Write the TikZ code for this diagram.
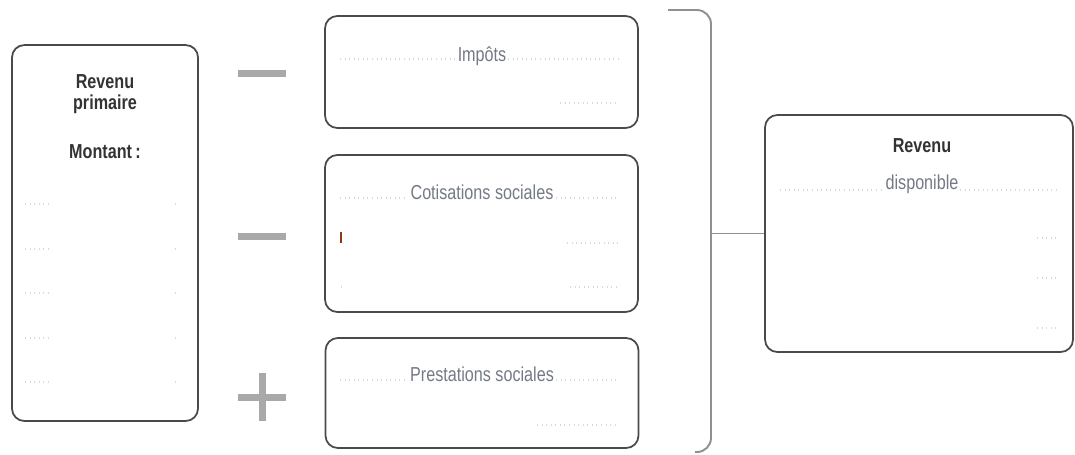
\documentclass[tikz,border=0pt]{standalone}
\usepackage{fontspec}
\setmainfont{Liberation Sans}
\newfontfamily\condfont[FakeStretch=0.8]{Liberation Sans}
\usetikzlibrary{positioning}
\definecolor{boxline}{HTML}{4A4A4A}
\definecolor{signgray}{HTML}{A9A9A9}
\definecolor{labelgray}{HTML}{737985}
\definecolor{cursor}{HTML}{8B3A12}
\tikzset{
    basic/.style  = {draw=boxline, line width=1pt, rectangle, rounded corners=7pt, inner sep=0pt},
    tall box/.style = {basic, minimum width=3.72cm, minimum height=7.52cm},
    flow box/.style = {basic, minimum width=6.26cm},
    head/.style = {font=\condfont\fontsize{11.5}{13}\selectfont\bfseries, text=black!80, anchor=base, inner sep=0pt},
    item/.style = {font=\condfont\fontsize{11.5}{13}\selectfont, text=labelgray, anchor=base, inner sep=0pt},
    sign/.style = {draw=signgray, line width=0.14cm},
    brace/.style = {draw=signgray!85!black, line width=1.1pt, rounded corners=8pt},
    dots/.style = {draw=gray!30, line width=0.6pt, dash pattern=on 0.6pt off 2pt}
}
\begin{document}
\begin{tikzpicture}[x=0.02cm, y=-0.02cm]
	\useasboundingbox (0,0) rectangle (1075,454);
	\node[tall box] (prim) at (105,233) {};
	\node[flow box, minimum height=2.24cm] (impots) at (481.5,72) {};
	\node[flow box, minimum height=3.14cm] (cotis) at (481.5,233.5) {};
	\node[flow box, minimum height=2.2cm] (prest) at (482,393) {};
	\node[basic, minimum width=6.16cm, minimum height=4.74cm] (dispo) at (919,233.5) {};

	\node[head] (primA) at (105,88) {Revenu};
	\node[head] (primB) at (105,109) {primaire};
	\node[head] (montant) at (105,158) {Montant\,:};
	\node[item] (impotsT) at (482,61) {Impôts};
	\node[item] (cotisT) at (482,199) {Cotisations sociales};
	\node[item] (prestT) at (482,381) {Prestations sociales};
	\node[head] (dispoA) at (922,152) {Revenu};
	\node[item] (dispoB) at (922,189) {disponible};

	\foreach \y in {204,249,293,338,382}
		\draw[dots] (25,\y) -- (52,\y) (175,\y) -- (177,\y);
	\draw[dots] (340,59) -- (456,59) (508,59) -- (618,59);
	\draw[dots] (560,103) -- (618,103);
	\draw[dots] (340,198) -- (408,198) (556,198) -- (618,198);
	\draw[dots] (567,243) -- (618,243);
	\draw[dots] (341,287) -- (343,287) (570,287) -- (618,287);
	\draw[dots] (340,380) -- (408,380) (556,380) -- (618,380);
	\draw[dots] (537,425) -- (618,425);
	\draw[dots] (780,190) -- (884,190) (960,190) -- (1058,190);
	\foreach \y in {238,278,328}
		\draw[dots] (1037,\y) -- (1058,\y);
	\draw[cursor, line width=1pt] (341,232) -- (341,243);

	\draw[sign] (238,73) -- (286,73);
	\draw[sign] (238,236) -- (286,236);
	\draw[sign] (238,397) -- (286,397) (262,373) -- (262,421);

	\draw[brace] (668,10) -- (711,10) -- (711,452) -- (695,452);
	\coordinate (mid) at (711,233.5);
	\draw[brace] (mid) -- (dispo.west);
\end{tikzpicture}
\end{document}
